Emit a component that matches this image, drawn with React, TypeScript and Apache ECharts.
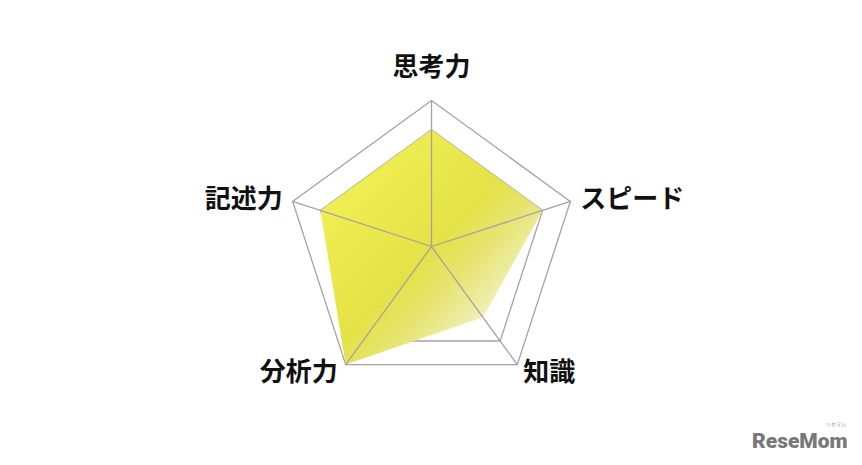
import React, { useEffect, useRef } from "react";
import * as echarts from "echarts";

const indicatorNames = ["思考力", "記述力", "分析力", "知識", "スピード"];
const scores = [4, 4, 5, 3, 4];
const maxScore = 5;
const ringColors = ["transparent", "transparent", "transparent", "transparent", "#a3a3a3", "#a3a3a3"];

export default function App() {
  const ref = useRef<HTMLDivElement>(null);
  useEffect(() => {
    if (!ref.current) return;
    const chart = echarts.init(ref.current, undefined, { renderer: "svg" });
    const cx = 431.5;
    const cy = 246.5;
    const radius = 146;
    const labelFont = "bold 26px 'Noto Sans CJK JP'";

    const nameLabels = indicatorNames.map((n, i) => {
      const a = ((90 + i * 72) * Math.PI) / 180;
      const vx = cx + radius * Math.cos(a);
      const vy = cy - radius * Math.sin(a);
      const c = Math.cos(a);
      const s = Math.sin(a);
      let align = "center";
      let x = vx;
      let y = vy;
      if (Math.abs(c) < 0.1) {
        y = vy - 36;
      } else if (c > 0) {
        align = "left";
        x = vx + (s < 0 ? 6 : 10);
        y = vy + (s < 0 ? 5 : -5);
      } else {
        align = "right";
        x = vx - (s < 0 ? 8 : 10);
        y = vy + (s < 0 ? 5 : -5);
      }
      return {
        type: "text",
        x,
        y,
        z: 10,
        style: { text: n, fill: "#111", font: labelFont, align, verticalAlign: "middle" },
      };
    });

    chart.setOption({
      animation: false,
      backgroundColor: "#ffffff",
      radar: [
        {
          center: [cx, cy],
          radius,
          startAngle: 90,
          splitNumber: 5,
          shape: "polygon",
          indicator: indicatorNames.map((n) => ({ name: n, min: 0, max: maxScore })),
          axisName: { show: false },
          splitLine: { lineStyle: { color: ringColors, width: 1.3 } },
          splitArea: { show: false },
          axisLine: { show: false },
          axisTick: { show: false },
          axisLabel: { show: false },
          z: 0,
        },
        {
          center: [cx, cy],
          radius,
          startAngle: 90,
          splitNumber: 5,
          shape: "polygon",
          indicator: indicatorNames.map((n) => ({ name: n, min: 0, max: maxScore })),
          axisName: { show: false },
          splitLine: { show: false },
          splitArea: { show: false },
          axisLine: { show: true, lineStyle: { color: "#a3a3a3", width: 1.3 } },
          z: 5,
        },
      ],
      series: [
        {
          type: "radar",
          radarIndex: 0,
          symbol: "none",
          lineStyle: { width: 0 },
          areaStyle: {
            opacity: 1,
            color: new echarts.graphic.LinearGradient(0, 0, 1, 1, [
              { offset: 0, color: "#f5f458" },
              { offset: 0.5, color: "#e4e246" },
              { offset: 0.62, color: "#e6e470" },
              { offset: 0.78, color: "#f1f1bf" },
              { offset: 1, color: "#fafae2" },
            ]),
          },
          data: [{ value: scores, name: "score" }],
        },
      ],
      graphic: [
        ...nameLabels,
        {
          type: "text",
          x: 752,
          y: 441,
          style: {
            text: "ReseMom",
            fill: "#787878",
            font: "900 21px Roboto",
            align: "left",
            verticalAlign: "middle",
          },
        },
        {
          type: "text",
          x: 836,
          y: 423,
          style: {
            text: "リセマム",
            fill: "#909090",
            font: "5px 'Noto Sans CJK JP'",
            align: "center",
            verticalAlign: "middle",
          },
        },
      ],
    });
    return () => chart.dispose();
  }, []);
  return (
    <div
      ref={ref}
      style={{ position: "fixed", left: 0, top: 0, width: 862, height: 465 }}
    />
  );
}
